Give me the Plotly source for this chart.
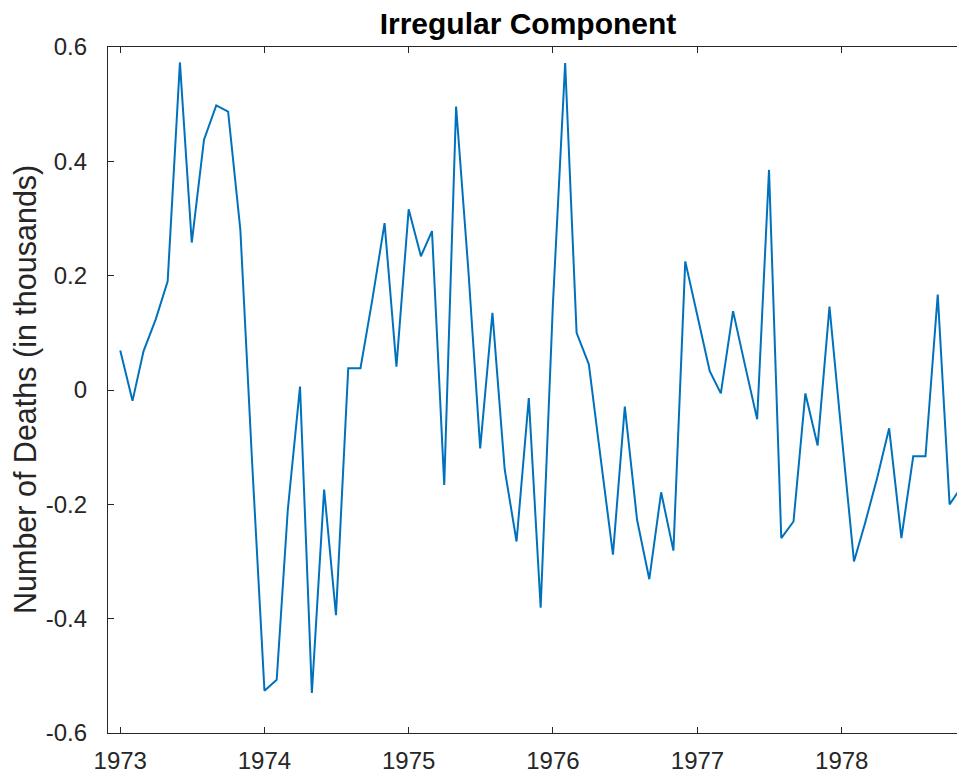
import plotly.graph_objects as go
import pandas as pd

# Monthly irregular component (thousands of deaths), Jan 1973 - Dec 1978
start_month = "1973-01-01"
n_months = 72
irregular = [
    0.069, -0.019, 0.068, 0.124, 0.19, 0.573, 0.258, 0.438, 0.498, 0.487, 0.28, -0.13,      # 1973
    -0.526, -0.507, -0.21, 0.006, -0.53, -0.174, -0.394, 0.038, 0.038, 0.158, 0.292, 0.041, # 1974
    0.316, 0.234, 0.278, -0.166, 0.496, 0.21, -0.102, 0.135, -0.139, -0.265, -0.014, -0.381, # 1975
    0.15, 0.572, 0.1, 0.045, -0.12, -0.288, -0.029, -0.227, -0.331, -0.179, -0.281, 0.225,  # 1976
    0.129, 0.033, -0.006, 0.138, 0.044, -0.051, 0.385, -0.259, -0.23, -0.006, -0.097, 0.146, # 1977
    -0.08, -0.3, -0.233, -0.153, -0.067, -0.259, -0.116, -0.116, 0.167, -0.2, -0.169, 0.2,  # 1978
]
dates = pd.date_range(start_month, periods=n_months, freq="MS")

x_tick_vals = ["1973-01-01", "1974-01-01", "1975-01-01", "1976-01-01", "1977-01-01", "1978-01-01"]
x_tick_text = ["1973", "1974", "1975", "1976", "1977", "1978"]
y_tick_vals = [-0.6, -0.4, -0.2, 0, 0.2, 0.4, 0.6]
y_tick_text = ["-0.6", "-0.4", "-0.2", "0", "0.2", "0.4", "0.6"]

title_text = "Irregular Component"
y_label = "Number of Deaths (in thousands)"

axis_color = "#262626"
font_family = "Liberation Sans, Arial, sans-serif"

# page has an 8px body margin, so the figure is offset by 8px
fig_w, fig_h = 957, 769

fig = go.Figure()
fig.add_trace(go.Scatter(
    x=dates, y=irregular, mode="lines",
    line=dict(color="#0072BD", width=2),
    showlegend=False, hoverinfo="skip",
))

fig.update_layout(
    width=fig_w, height=fig_h,
    margin=dict(l=100, r=0, t=39, b=44),
    paper_bgcolor="white", plot_bgcolor="white",
    font=dict(family=font_family, color=axis_color, size=24),
    title=dict(
        text="<b>" + title_text + "</b>",
        x=520 / fig_w, xref="container", xanchor="center",
        y=1 - 15 / fig_h, yref="container", yanchor="middle",
        font=dict(size=30, color="black", family=font_family),
    ),
    annotations=[dict(
        text=y_label, textangle=-90,
        xref="paper", yref="paper",
        x=-83 / 857, y=0.5, xanchor="center", yanchor="middle",
        showarrow=False,
        font=dict(size=30.5, color=axis_color, family=font_family),
    )],
)

fig.update_xaxes(
    type="date",
    automargin=False,
    range=["1972-12-01", "1978-11-09"],
    tickvals=x_tick_vals, ticktext=x_tick_text,
    ticks="inside", ticklen=6, tickwidth=1.2, tickcolor=axis_color,
    showline=True, linecolor=axis_color, linewidth=1.2, mirror="ticks",
    showgrid=False, zeroline=False,
    ticklabelstandoff=6,
)
fig.update_yaxes(
    automargin=False,
    range=[-0.6, 0.6],
    tickvals=y_tick_vals, ticktext=y_tick_text,
    ticks="inside", ticklen=6, tickwidth=1.2, tickcolor=axis_color,
    showline=True, linecolor=axis_color, linewidth=1.2, mirror="ticks",
    showgrid=False, zeroline=False,
    ticklabelstandoff=15,
)

fig.write_html("out.html")
